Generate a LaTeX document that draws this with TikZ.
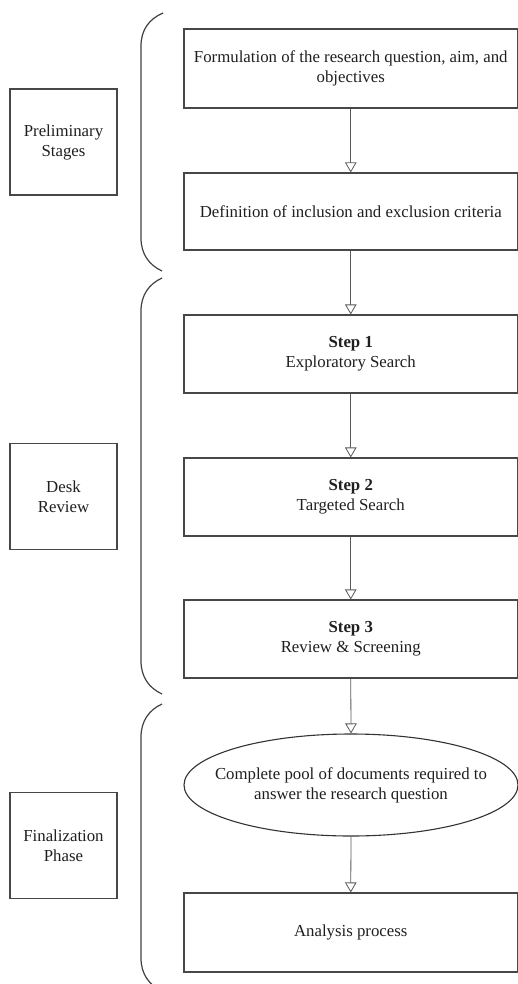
\documentclass[tikz,border=0pt]{standalone}
\usepackage{fontspec}
\setmainfont{Liberation Serif}
\usetikzlibrary{arrows.meta,shapes.geometric}
\begin{document}
\begin{tikzpicture}[x=1pt,y=-1pt,
  txt/.style={font=\fontsize{16.8}{20}\selectfont, text=black!88, align=center},
  flowbox/.style={txt, draw=black!72, line width=1.1pt, minimum width=333.5pt, minimum height=78pt, inner sep=0pt},
  labelbox/.style={txt, draw=black!72, line width=1.1pt, minimum width=107pt, minimum height=106pt, inner sep=0pt},
  poolshape/.style={ellipse, draw=black!80, line width=1.1pt, minimum width=334pt, minimum height=102pt, inner sep=0pt},
  flowarrow/.style={draw=black!65, line width=0.8pt, -{Triangle[open, width=11.5pt, length=10pt, fill=white]}},
  bracketline/.style={draw=black!75, line width=1.2pt}
]
\useasboundingbox (0,0) rectangle (518,984);
\clip (0,0) rectangle (518,984);

% left labels
\node[labelbox] (prelim) at (63.5,142) {Preliminary\\Stages};
\node[labelbox] (desk) at (63.5,496.5) {Desk\\Review};
\node[labelbox] (final) at (63.5,845.5) {Finalization\\Phase};

% flow
\node[flowbox, minimum height=79pt] (form) at (350.75,68.5) {Formulation of the research question, aim, and\\objectives};
\node[flowbox, minimum height=77pt] (crit) at (350.75,211.5) {Definition of inclusion and exclusion criteria};
\node[flowbox] (s1) at (350.75,354) {\textbf{Step 1}\\Exploratory Search};
\node[flowbox] (s2) at (350.75,497) {\textbf{Step 2}\\Targeted Search};
\node[flowbox] (s3) at (350.75,639) {\textbf{Step 3}\\Review \& Screening};
\node[poolshape] (pool) at (351,785) {};
\node[txt] (pooltext) at (pool.center) {Complete pool of documents required to\\answer the research question};
\node[flowbox, minimum height=79pt] (ana) at (350.75,932.5) {Analysis process};

\draw[flowarrow] (form.south) -- (crit.north);
\draw[flowarrow] (crit.south) -- (s1.north);
\draw[flowarrow] (s1.south) -- (s2.north);
\draw[flowarrow] (s2.south) -- (s3.north);
\draw[flowarrow] (s3.south) -- (pool.north);
\draw[flowarrow] (pool.south) -- (ana.north);

% brackets
\draw[bracketline] (163,13) .. controls (149,19) and (141,30) .. (141,46)
  -- (141,238) .. controls (141,254) and (149,265) .. (162,271);
\draw[bracketline] (162,278) .. controls (149,284) and (141,295) .. (141,311)
  -- (141,661) .. controls (141,677) and (149,688) .. (162,694);
\draw[bracketline] (162,704) .. controls (149,710) and (141,721) .. (141,737)
  -- (141,958) .. controls (141,974) and (149,985) .. (162,991);
\end{tikzpicture}
\end{document}
